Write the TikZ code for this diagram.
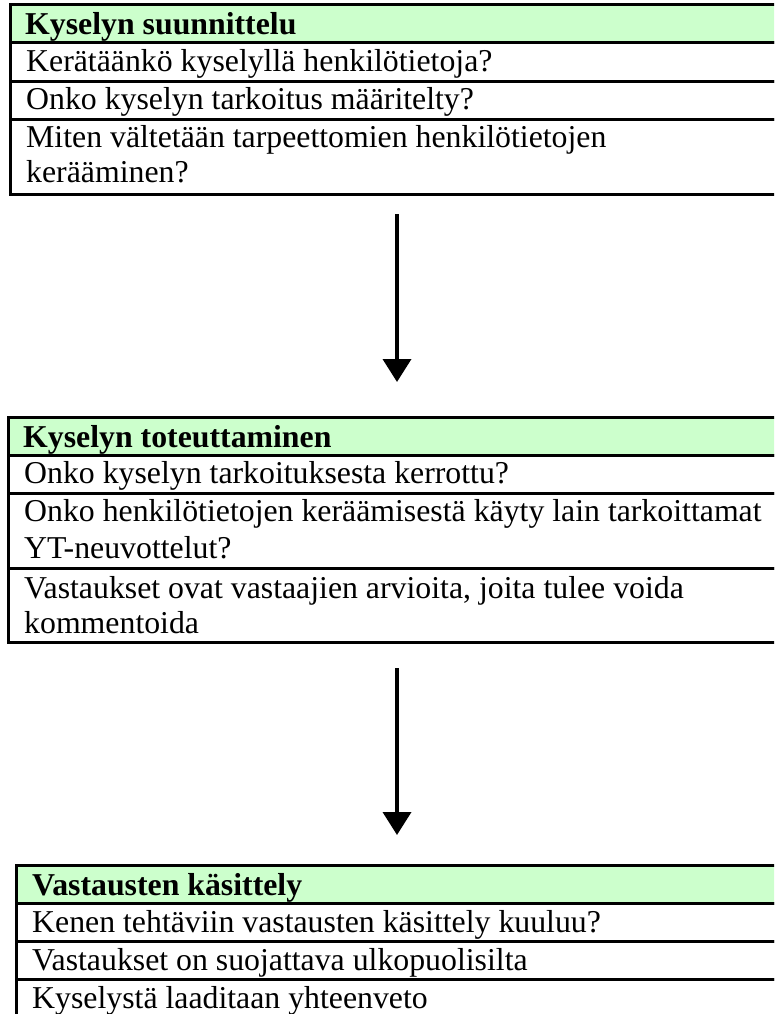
\documentclass[tikz,border=0pt]{standalone}
\usepackage{fontspec}
\setmainfont{Liberation Serif}
\usetikzlibrary{arrows.meta}
\definecolor{hdrgreen}{HTML}{CCFFCC}
\begin{document}
\begin{tikzpicture}[x=1pt,y=-1pt,
  rowbox/.style={draw=black, line width=3pt, anchor=north west, minimum width=900pt, inner sep=0pt, outer sep=0pt},
  hdrbox/.style={rowbox, fill=hdrgreen},
  txt/.style={anchor=base west, inner sep=0pt, font=\fontsize{31.8}{36}\selectfont},
  hdrtxt/.style={txt, font=\fontsize{31.8}{36}\selectfont\bfseries},
  flow/.style={line width=3.8pt, -{Triangle[width=28pt,length=23pt]}}]
\useasboundingbox (0,0) rectangle (774,1014);
\clip (0,0) rectangle (774,1014);
\fill[white] (0,0) rectangle (774,1014);
% Box 1
\node[hdrbox, minimum height=38pt] (b1h) at (10,5) {};
\node[rowbox, minimum height=39pt] (b1r1) at (10,43) {};
\node[rowbox, minimum height=38pt] (b1r2) at (10,82) {};
\node[rowbox, minimum height=74pt] (b1r3) at (10,120) {};
\node[hdrtxt] (t1h) at (25,35) {Kyselyn suunnittelu};
\node[txt] (t1a) at (26,72) {Kerätäänkö kyselyllä henkilötietoja?};
\node[txt] (t1b) at (26,110) {Onko kyselyn tarkoitus määritelty?};
\node[txt] (t1c) at (26,147) {Miten vältetään tarpeettomien henkilötietojen};
\node[txt] (t1d) at (26,182) {kerääminen?};
% Box 2
\node[hdrbox, minimum height=38pt] (b2h) at (8,417) {};
\node[rowbox, minimum height=38pt] (b2r1) at (8,455) {};
\node[rowbox, minimum height=75pt] (b2r2) at (8,493) {};
\node[rowbox, minimum height=74pt] (b2r3) at (8,568) {};
\node[hdrtxt] (t2h) at (23,447) {Kyselyn toteuttaminen};
\node[txt] (t2a) at (24,483) {Onko kyselyn tarkoituksesta kerrottu?};
\node[txt] (t2b) at (24,521) {Onko henkilötietojen keräämisestä käyty lain tarkoittamat};
\node[txt] (t2c) at (24,558) {YT-neuvottelut?};
\node[txt] (t2d) at (24,598) {Vastaukset ovat vastaajien arvioita, joita tulee voida};
\node[txt] (t2e) at (24,633) {kommentoida};
% Box 3
\node[hdrbox, minimum height=38pt] (b3h) at (16,865) {};
\node[rowbox, minimum height=38pt] (b3r1) at (16,903) {};
\node[rowbox, minimum height=38pt] (b3r2) at (16,941) {};
\node[rowbox, minimum height=60pt] (b3r3) at (16,979) {};
\node[hdrtxt] (t3h) at (32,895) {Vastausten käsittely};
\node[txt] (t3a) at (32,932) {Kenen tehtäviin vastausten käsittely kuuluu?};
\node[txt] (t3b) at (32,970) {Vastaukset on suojattava ulkopuolisilta};
\node[txt] (t3c) at (32,1008) {Kyselystä laaditaan yhteenveto};
% Arrows
\coordinate (a1s) at (397,214);
\coordinate (a1e) at (397,382);
\coordinate (a2s) at (397,668);
\coordinate (a2e) at (397,835);
\draw[flow] (a1s) -- (a1e);
\draw[flow] (a2s) -- (a2e);
\end{tikzpicture}
\end{document}
